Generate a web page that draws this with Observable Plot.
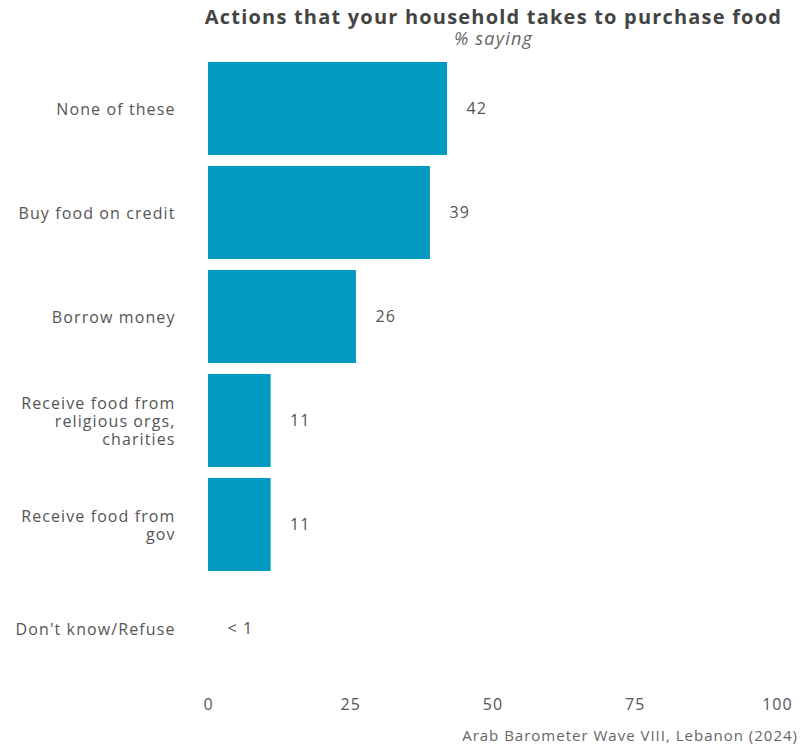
<!DOCTYPE html>
<html>
<head>
<meta charset="utf-8">
<script src="https://cdn.jsdelivr.net/npm/d3@7"></script>
<script src="https://cdn.jsdelivr.net/npm/@observablehq/plot@0.6"></script>
<style>
  html, body { margin: 0; padding: 0; background: #fff; }
  #chart { width: 807px; height: 746px; }
</style>
</head>
<body>
<div id="chart"></div>
<script>
const categories = ["None of these", "Buy food on credit", "Borrow money", "Receive food from religious orgs, charities", "Receive food from gov", "Don't know/Refuse"];
const tickLabels = ["None of these", "Buy food on credit", "Borrow money", "Receive food from\nreligious orgs,\ncharities", "Receive food from\ngov", "Don't know/Refuse"];
const values = [42, 39, 26, 11, 11, 0];
const valueLabels = ["42", "39", "26", "11", "11", "< 1"];
const xTicks = [0, 25, 50, 75, 100];
const title = "Actions that your household takes to purchase food";
const subtitle = "% saying";
const caption = "Arab Barometer Wave VIII, Lebanon (2024)";

const data = categories.map((c, i) => ({category: c, value: values[i], label: valueLabels[i]}));
const labelOf = new Map(categories.map((c, i) => [c, tickLabels[i]]));

const W = 807, H = 746;
const mL = 208, mR = 30, mT = 57, mB = 65;
const font = "'Open Sans', sans-serif";
const barColor = "#0099bf";

const chart = Plot.plot({
  width: W,
  height: H,
  marginLeft: mL,
  marginRight: mR,
  marginTop: mT,
  marginBottom: mB,
  style: {fontFamily: font, fontSize: "16px", color: "#555", background: "#fff", letterSpacing: "1.1px"},
  x: {domain: [0, 100], ticks: xTicks, label: null},
  y: {domain: categories, paddingInner: 0.105, paddingOuter: 0.0525, label: null},
  marks: [
    Plot.barX(data, {x: "value", y: "category", fill: barColor}),
    Plot.text(data, {x: "value", y: "category", text: "label", textAnchor: "start", dx: 19, fill: "#555", fontSize: 16}),
    Plot.axisY({tickSize: 0, tickPadding: 33, tickFormat: d => labelOf.get(d), lineHeight: 1.13, fontSize: 16, fill: "#555", label: null}),
    Plot.axisX({ticks: xTicks, tickSize: 0, tickPadding: 17, fontSize: 16, fill: "#555", label: null})
  ]
});

document.getElementById("chart").appendChild(chart);

const svg = d3.select(chart);
const cx = mL + (W - mL - mR) / 2 + 1;
svg.append("text")
  .attr("x", cx).attr("y", 24)
  .attr("text-anchor", "middle")
  .attr("font-family", font)
  .attr("font-weight", "bold")
  .attr("font-size", 20)
  .attr("letter-spacing", "1.2px")
  .attr("fill", "#444")
  .text(title);
svg.append("text")
  .attr("x", cx).attr("y", 45)
  .attr("text-anchor", "middle")
  .attr("font-family", font)
  .attr("font-style", "italic")
  .attr("font-size", 18)
  .attr("letter-spacing", "1.2px")
  .attr("fill", "#666")
  .text(subtitle);
svg.append("text")
  .attr("x", W - 9).attr("y", 741)
  .attr("text-anchor", "end")
  .attr("font-family", font)
  .attr("font-size", 15)
  .attr("letter-spacing", "1px")
  .attr("fill", "#666")
  .text(caption);
</script>
</body>
</html>
